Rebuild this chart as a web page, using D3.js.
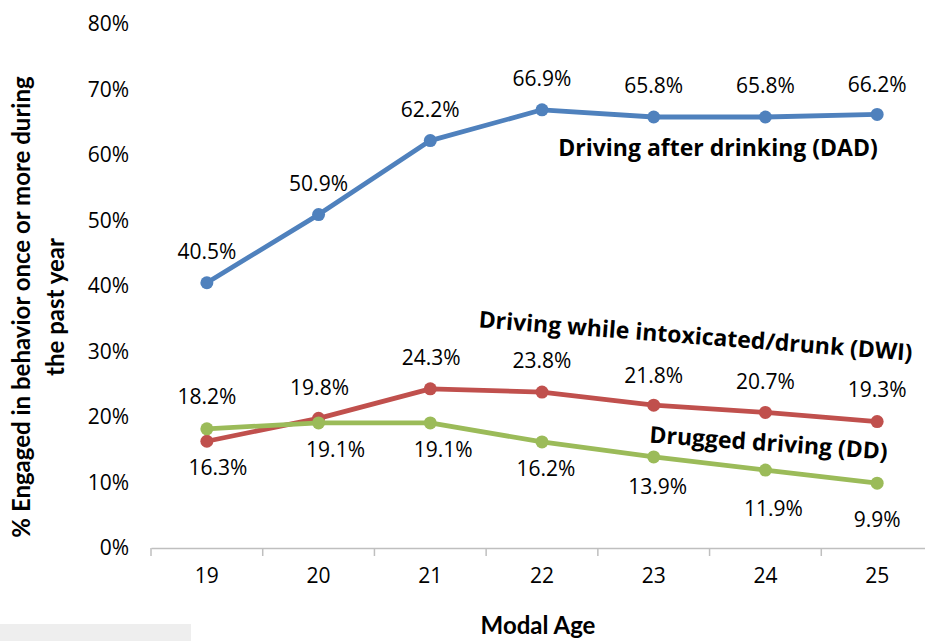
<!DOCTYPE html>
<html><head><meta charset="utf-8">
<script src="https://cdn.jsdelivr.net/npm/d3@7"></script>
<style>
html,body{margin:0;padding:0;background:#fff;}
svg{display:block;}
</style></head>
<body>
<svg id="chart" width="925" height="641"></svg>
<script>
// ---- data ----
const ages = ["19","20","21","22","23","24","25"];
const dad = [0.405, 0.509, 0.622, 0.669, 0.658, 0.658, 0.662];
const dwi = [0.163, 0.198, 0.243, 0.238, 0.218, 0.207, 0.193];
const dd  = [0.182, 0.191, 0.191, 0.162, 0.139, 0.119, 0.099];
const yTicks = [0, 0.1, 0.2, 0.3, 0.4, 0.5, 0.6, 0.7, 0.8];
const seriesNames = ["Driving after drinking (DAD)", "Driving while intoxicated/drunk (DWI)", "Drugged driving (DD)"];
const yTitle = ["% Engaged in behavior once or more during", "the past year"];
const xTitle = "Modal Age";

// ---- layout / style (not data) ----
const colors = ["#4F81BD", "#C0504D", "#9BBB59"];
// label offsets in px relative to point: [dx, dy]
const labelOffsets = [
  [[0,-31],[0,-31],[0,-31],[0,-31],[0,-31],[0,-31],[0,-30]],
  [[11,26],[1,-31],[1,-31],[0,-31],[0,-30],[0,-31],[0,-32]],
  [[0,-32],[17,27],[13,27],[4,27],[4,30],[8,39],[0,36]]
];
const seriesLabelPos = [
  {x:718, y:156, rot:0},
  {x:695, y:344, rot:4.4},
  {x:768, y:451, rot:4.1}
];

const svg = d3.select("#chart");
const x = d3.scaleBand().domain(ages).range([151, 933]);
const y = d3.scaleLinear().domain([0, 0.8]).range([548, 24]);
const fmt = d3.format(".1%");

// gray box at bottom-left
svg.append("rect").attr("x",0).attr("y",624).attr("width",191).attr("height",17).attr("fill","#eeeeee");

// x axis
const xAxis = svg.append("g").attr("transform","translate(0,548)")
  .call(d3.axisBottom(x).tickSize(0).tickPadding(20));
xAxis.select(".domain").attr("stroke","#BFBFBF").attr("stroke-width",1.5);
xAxis.selectAll("text").attr("font-family","'Open Sans', sans-serif").attr("font-size",21).attr("fill","#000");
// tick marks at band boundaries
const edges = ages.map(a => x(a)).concat([x(ages[ages.length-1]) + x.bandwidth()]);
svg.append("g").selectAll("line").data(edges).join("line")
  .attr("x1", d=>d).attr("x2", d=>d).attr("y1",548).attr("y2",556)
  .attr("stroke","#BFBFBF").attr("stroke-width",1.5);

// y axis
const yAxis = svg.append("g").attr("transform","translate(151,0)")
  .call(d3.axisLeft(y).tickValues(yTicks).tickFormat(d3.format(".0%")).tickSize(0).tickPadding(22));
yAxis.select(".domain").remove();
yAxis.selectAll("text").attr("font-family","'Open Sans', sans-serif").attr("font-size",21).attr("fill","#000");

// axis titles
const yt = svg.append("text").attr("transform","translate(22,307) rotate(-90)")
  .attr("text-anchor","middle").attr("font-family","Lato, sans-serif").attr("font-weight","bold")
  .attr("font-size",24).attr("fill","#000");
yt.append("tspan").attr("x",0).attr("dy","0.35em").text(yTitle[0]);
yt.append("tspan").attr("x",0).attr("dy","1.4em").text(yTitle[1]);

svg.append("text").attr("x",538).attr("y",634).attr("text-anchor","middle")
  .attr("font-family","Lato, sans-serif").attr("font-weight","bold").attr("font-size",24).attr("fill","#000")
  .text(xTitle);

// series
const allSeries = [dad, dwi, dd];
const line = d3.line().x((d,i)=>x(ages[i]) + x.bandwidth()/2).y(d=>y(d));
allSeries.forEach((vals, s) => {
  const g = svg.append("g");
  g.append("path").datum(vals).attr("d", line).attr("fill","none")
    .attr("stroke", colors[s]).attr("stroke-width",4.8).attr("stroke-linejoin","round");
  g.selectAll("circle").data(vals).join("circle")
    .attr("cx",(d,i)=>x(ages[i]) + x.bandwidth()/2).attr("cy",d=>y(d)).attr("r",6.5)
    .attr("fill", colors[s]);
});
// data labels
allSeries.forEach((vals, s) => {
  svg.append("g").selectAll("text").data(vals).join("text")
    .attr("x",(d,i)=>x(ages[i]) + x.bandwidth()/2 + labelOffsets[s][i][0])
    .attr("y",(d,i)=>y(d) + labelOffsets[s][i][1])
    .attr("dy","0.35em").attr("text-anchor","middle")
    .attr("font-family","'Open Sans', sans-serif").attr("font-size",21).attr("fill","#000")
    .text(d=>fmt(d));
});
// series name labels
seriesNames.forEach((name, s) => {
  const p = seriesLabelPos[s];
  svg.append("text").attr("transform",`translate(${p.x},${p.y}) rotate(${p.rot})`)
    .attr("text-anchor","middle").attr("font-family","'Open Sans', sans-serif").attr("font-weight","bold")
    .attr("font-size",23).attr("fill","#000").text(name);
});
</script>
</body></html>
